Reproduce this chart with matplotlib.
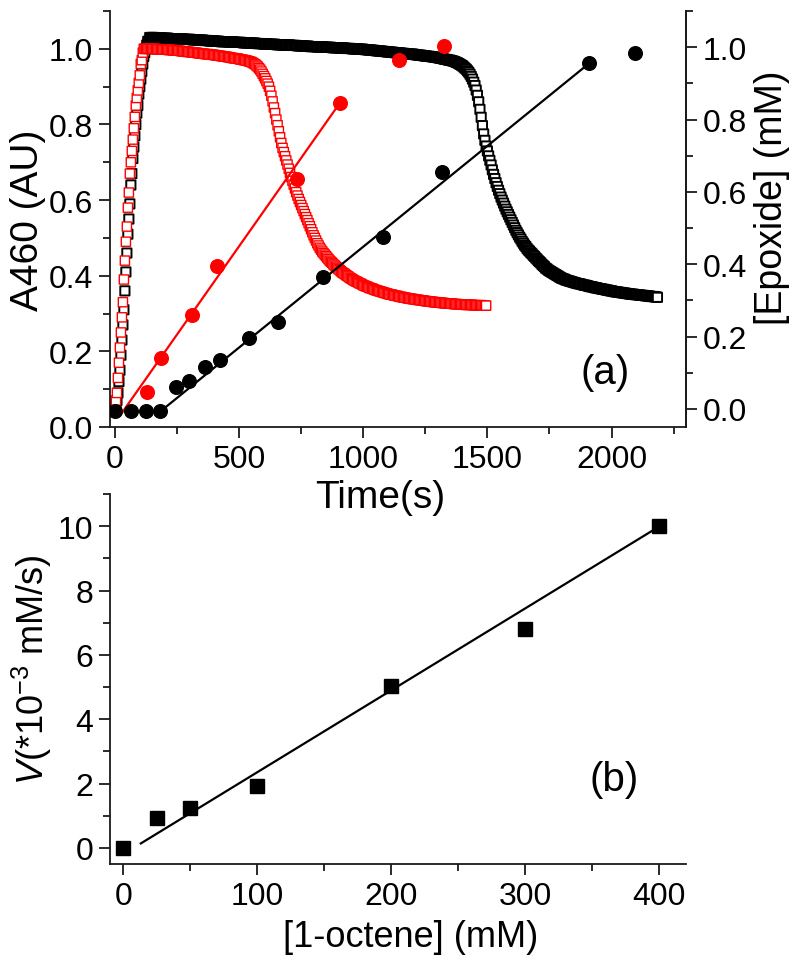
import numpy as np
import matplotlib.pyplot as plt
from matplotlib.ticker import MultipleLocator

plt.rcParams['font.family'] = ['Liberation Sans', 'DejaVu Sans']
plt.rcParams['mathtext.fontset'] = 'custom'
plt.rcParams['mathtext.rm'] = 'Liberation Sans'
plt.rcParams['mathtext.it'] = 'Liberation Sans:italic'

# ---- (a) A460 traces (hollow squares, left axis) ----
# rise sampled every 4 s, then every 5 s
black_rise_t = np.arange(0, 141, 4)
black_rise_a = [0.05, 0.05, 0.07, 0.09, 0.12, 0.15, 0.19, 0.23, 0.27, 0.31,
                0.36, 0.41, 0.46, 0.51, 0.55, 0.59, 0.64, 0.67, 0.71, 0.74,
                0.77, 0.80, 0.83, 0.85, 0.88, 0.90, 0.92, 0.94, 0.96, 0.98,
                0.99, 1.00, 1.01, 1.02, 1.02, 1.03]
black_t = np.arange(145, 2186, 5)
black_a = [
    1.030, 1.030, 1.030, 1.030, 1.029, 1.029, 1.029, 1.029, 1.029, 1.028, 1.028, 1.028, 1.028, 1.028, 1.028, 1.027, 1.027, 1.027, 1.027, 1.027,
    1.027, 1.026, 1.026, 1.026, 1.026, 1.026, 1.026, 1.025, 1.025, 1.025, 1.025, 1.025, 1.025, 1.024, 1.024, 1.024, 1.024, 1.024, 1.023, 1.023,
    1.023, 1.023, 1.023, 1.022, 1.022, 1.022, 1.022, 1.021, 1.021, 1.021, 1.021, 1.021, 1.020, 1.020, 1.020, 1.020, 1.019, 1.019, 1.019, 1.019,
    1.019, 1.019, 1.019, 1.018, 1.018, 1.018, 1.018, 1.018, 1.017, 1.017, 1.017, 1.017, 1.017, 1.017, 1.016, 1.016, 1.016, 1.016, 1.016, 1.016,
    1.015, 1.015, 1.015, 1.015, 1.015, 1.014, 1.014, 1.014, 1.014, 1.014, 1.013, 1.013, 1.013, 1.013, 1.013, 1.012, 1.012, 1.012, 1.012, 1.012,
    1.012, 1.011, 1.011, 1.011, 1.011, 1.011, 1.010, 1.010, 1.010, 1.010, 1.010, 1.010, 1.010, 1.009, 1.009, 1.009, 1.009, 1.009, 1.008, 1.008,
    1.008, 1.008, 1.008, 1.007, 1.007, 1.007, 1.007, 1.007, 1.006, 1.006, 1.006, 1.006, 1.006, 1.006, 1.005, 1.005, 1.005, 1.005, 1.005, 1.005,
    1.004, 1.004, 1.004, 1.004, 1.004, 1.004, 1.003, 1.003, 1.003, 1.003, 1.003, 1.003, 1.002, 1.002, 1.002, 1.002, 1.002, 1.001, 1.001, 1.001,
    1.001, 1.001, 1.000, 1.000, 1.000, 1.000, 1.000, 0.999, 0.999, 0.999, 0.999, 0.999, 0.998, 0.998, 0.998, 0.997, 0.997, 0.997, 0.996, 0.996,
    0.996, 0.995, 0.995, 0.995, 0.994, 0.994, 0.994, 0.993, 0.993, 0.993, 0.992, 0.992, 0.992, 0.991, 0.991, 0.991, 0.990, 0.990, 0.990, 0.989,
    0.989, 0.989, 0.988, 0.988, 0.988, 0.987, 0.987, 0.987, 0.986, 0.986, 0.986, 0.986, 0.985, 0.985, 0.984, 0.984, 0.983, 0.983, 0.983, 0.982,
    0.982, 0.981, 0.981, 0.980, 0.980, 0.980, 0.979, 0.979, 0.978, 0.978, 0.977, 0.977, 0.976, 0.975, 0.975, 0.974, 0.973, 0.972, 0.972, 0.971,
    0.970, 0.970, 0.969, 0.968, 0.967, 0.966, 0.964, 0.963, 0.961, 0.959, 0.957, 0.955, 0.952, 0.949, 0.946, 0.942, 0.938, 0.933, 0.927, 0.920,
    0.912, 0.903, 0.891, 0.877, 0.860, 0.840, 0.819, 0.797, 0.775, 0.758, 0.743, 0.730, 0.717, 0.705, 0.693, 0.680, 0.668, 0.657, 0.646, 0.636,
    0.626, 0.617, 0.608, 0.600, 0.592, 0.584, 0.576, 0.569, 0.562, 0.555, 0.548, 0.541, 0.534, 0.527, 0.520, 0.514, 0.508, 0.502, 0.497, 0.491,
    0.486, 0.481, 0.477, 0.472, 0.468, 0.465, 0.461, 0.458, 0.454, 0.451, 0.447, 0.444, 0.440, 0.437, 0.434, 0.430, 0.427, 0.424, 0.420, 0.418,
    0.415, 0.413, 0.411, 0.409, 0.407, 0.405, 0.403, 0.401, 0.399, 0.397, 0.395, 0.393, 0.392, 0.391, 0.389, 0.388, 0.387, 0.386, 0.385, 0.384,
    0.383, 0.382, 0.381, 0.380, 0.379, 0.379, 0.378, 0.377, 0.376, 0.375, 0.375, 0.374, 0.373, 0.372, 0.371, 0.371, 0.370, 0.369, 0.368, 0.368,
    0.367, 0.366, 0.366, 0.365, 0.364, 0.364, 0.363, 0.362, 0.362, 0.361, 0.360, 0.360, 0.359, 0.358, 0.358, 0.357, 0.357, 0.356, 0.356, 0.355,
    0.355, 0.354, 0.354, 0.353, 0.353, 0.352, 0.352, 0.351, 0.351, 0.351, 0.350, 0.350, 0.350, 0.349, 0.349, 0.348, 0.348, 0.348, 0.347, 0.347,
    0.347, 0.346, 0.346, 0.345, 0.345, 0.345, 0.344, 0.344, 0.343]

red_rise_t = np.arange(0, 117, 4)
red_rise_a = [0.05, 0.07, 0.09, 0.13, 0.17, 0.21, 0.25, 0.29, 0.33, 0.39,
              0.44, 0.49, 0.53, 0.58, 0.62, 0.67, 0.70, 0.73, 0.76, 0.79,
              0.82, 0.85, 0.87, 0.89, 0.91, 0.93, 0.96, 0.97, 0.99, 1.00]
red_t = np.arange(120, 1496, 5)
red_a = [
    1.000, 1.000, 1.000, 1.000, 1.000, 1.000, 1.000, 1.000, 1.000, 0.999, 0.999, 0.999, 0.999, 0.999, 0.998, 0.998, 0.998, 0.998, 0.998, 0.997,
    0.997, 0.997, 0.997, 0.996, 0.996, 0.996, 0.996, 0.995, 0.995, 0.994, 0.994, 0.993, 0.993, 0.993, 0.992, 0.992, 0.992, 0.991, 0.991, 0.990,
    0.990, 0.990, 0.989, 0.989, 0.988, 0.988, 0.988, 0.987, 0.987, 0.986, 0.986, 0.986, 0.985, 0.985, 0.985, 0.984, 0.984, 0.983, 0.983, 0.982,
    0.982, 0.981, 0.981, 0.980, 0.980, 0.979, 0.979, 0.978, 0.978, 0.977, 0.976, 0.976, 0.975, 0.975, 0.974, 0.974, 0.973, 0.972, 0.972, 0.971,
    0.970, 0.970, 0.969, 0.968, 0.967, 0.966, 0.965, 0.963, 0.961, 0.959, 0.956, 0.953, 0.949, 0.945, 0.940, 0.934, 0.928, 0.922, 0.915, 0.908,
    0.900, 0.889, 0.876, 0.861, 0.845, 0.830, 0.813, 0.798, 0.782, 0.766, 0.751, 0.738, 0.727, 0.716, 0.705, 0.694, 0.683, 0.672, 0.661, 0.651,
    0.641, 0.631, 0.621, 0.612, 0.603, 0.595, 0.587, 0.579, 0.571, 0.563, 0.555, 0.547, 0.539, 0.531, 0.523, 0.515, 0.507, 0.500, 0.493, 0.486,
    0.480, 0.474, 0.469, 0.464, 0.460, 0.456, 0.452, 0.448, 0.444, 0.440, 0.437, 0.434, 0.430, 0.427, 0.424, 0.421, 0.418, 0.415, 0.412, 0.409,
    0.407, 0.405, 0.402, 0.400, 0.398, 0.395, 0.393, 0.391, 0.389, 0.387, 0.385, 0.384, 0.382, 0.380, 0.379, 0.377, 0.375, 0.374, 0.372, 0.371,
    0.370, 0.368, 0.367, 0.366, 0.365, 0.363, 0.362, 0.361, 0.360, 0.359, 0.358, 0.357, 0.356, 0.355, 0.354, 0.353, 0.352, 0.351, 0.350, 0.350,
    0.349, 0.348, 0.347, 0.347, 0.346, 0.345, 0.344, 0.344, 0.343, 0.342, 0.342, 0.341, 0.340, 0.340, 0.339, 0.339, 0.338, 0.338, 0.337, 0.337,
    0.336, 0.336, 0.335, 0.335, 0.334, 0.334, 0.333, 0.333, 0.332, 0.332, 0.332, 0.331, 0.331, 0.330, 0.330, 0.330, 0.329, 0.329, 0.329, 0.328,
    0.328, 0.328, 0.327, 0.327, 0.327, 0.326, 0.326, 0.326, 0.326, 0.325, 0.325, 0.325, 0.325, 0.324, 0.324, 0.324, 0.324, 0.324, 0.323, 0.323,
    0.323, 0.323, 0.323, 0.323, 0.323, 0.322, 0.322, 0.322, 0.322, 0.322, 0.322, 0.322, 0.322, 0.321, 0.321, 0.321]

# ---- (a) epoxide (filled circles, right axis) + linear fits ----
epox_black_t = [0, 63, 125, 181, 246, 298, 363, 423, 540, 657, 839, 1081, 1317, 1911, 2093]
epox_black = [-0.005, -0.005, -0.005, -0.005, 0.060, 0.076, 0.117, 0.134, 0.197, 0.240,
              0.364, 0.475, 0.655, 0.956, 0.985]
fit_black_t = [208, 1911]
fit_black = [0.007, 0.956]

epox_red_t = [130, 184, 309, 410, 733, 907, 1146, 1324]
epox_red = [0.046, 0.141, 0.260, 0.394, 0.636, 0.847, 0.965, 1.002]
fit_red_t = [27, 907]
fit_red = [-0.012, 0.847]

# ---- (b) rate vs [1-octene] ----
octene = [0, 25, 50, 100, 200, 300, 400]
rate = [0.0, 0.93, 1.25, 1.94, 5.04, 6.80, 10.0]
fit_oct = [13, 396]
fit_rate = [0.14, 9.89]

RED = '#ff0000'
AXC = '#1a1a1a'

fig = plt.figure(figsize=(8, 9.62), dpi=100)
ax = fig.add_axes([0.1375, 0.5551, 0.72, 0.4324])
ax2 = ax.twinx()
axb = fig.add_axes([0.1375, 0.1008, 0.72, 0.3846])
axb.patch.set_visible(False)

# per-point colours + snap=False: squares are drawn one by one at sub-pixel
# positions so the dense trace merges into a band like the original
bt = np.concatenate([black_rise_t, black_t])
rt = np.concatenate([red_rise_t, red_t])
ax.scatter(bt, black_rise_a + black_a, marker='s', s=44,
           facecolors=['white'] * len(bt), edgecolors=['black'] * len(bt),
           linewidths=1.4, snap=False)
ax.scatter(rt, red_rise_a + red_a, marker='s', s=44,
           facecolors=['white'] * len(rt), edgecolors=[RED] * len(rt),
           linewidths=1.0, snap=False)

ax2.plot(fit_red_t, fit_red, color=RED, lw=1.6)
ax2.plot(epox_red_t, epox_red, 'o', color=RED, ms=9.8)
ax2.plot(fit_black_t, fit_black, color='black', lw=1.6)
ax2.plot(epox_black_t, epox_black, 'o', color='black', ms=9.8)

ax.set_xlim(-20, 2300)
ax.set_ylim(0, 1.1)
ax2.set_ylim(-0.05, 1.1)
ax.xaxis.set_major_locator(MultipleLocator(500))
ax.xaxis.set_minor_locator(MultipleLocator(250))
ax.yaxis.set_major_locator(MultipleLocator(0.2))
ax.yaxis.set_minor_locator(MultipleLocator(0.1))
ax2.yaxis.set_major_locator(MultipleLocator(0.2))
ax2.yaxis.set_minor_locator(MultipleLocator(0.1))
ax.yaxis.set_major_formatter(lambda v, p: f'{v:.1f}')
ax2.yaxis.set_major_formatter(lambda v, p: f'{v:.1f}')

for a in (ax, ax2):
    a.spines['top'].set_visible(False)
ax2.spines['left'].set_visible(False)
ax2.spines['bottom'].set_visible(False)

axb.plot(fit_oct, fit_rate, color='black', lw=1.6)
axb.plot(octene, rate, 's', color='black', ms=9.5)
axb.set_xlim(-10, 420)
axb.set_ylim(-0.5, 11)
axb.xaxis.set_major_locator(MultipleLocator(100))
axb.xaxis.set_minor_locator(MultipleLocator(50))
axb.yaxis.set_major_locator(MultipleLocator(2))
axb.yaxis.set_minor_locator(MultipleLocator(1))
axb.spines['top'].set_visible(False)
axb.spines['right'].set_visible(False)

for a in (ax, ax2, axb):
    for s in a.spines.values():
        s.set_linewidth(1.3)
        s.set_color(AXC)
    a.tick_params(which='major', direction='out', length=8, width=1.3, color=AXC,
                  labelsize=23, pad=4)
    a.tick_params(which='minor', direction='out', length=5, width=1.3, color=AXC)

# axis titles
ax.text(-0.142, 0.5, 'A460 (AU)', transform=ax.transAxes, rotation=90,
        ha='center', va='center', fontsize=28)
ax.text(0.469, -0.168, 'Time(s)', transform=ax.transAxes,
        ha='center', va='center', fontsize=28)
ax2.text(1.149, 0.553, '[Epoxide] (mM)', transform=ax2.transAxes, rotation=90,
         ha='center', va='center', fontsize=27)
ax2.text(0.859, 0.133, '(a)', transform=ax2.transAxes,
         ha='center', va='center', fontsize=29)

axb.text(-0.135, 0.527, r'$V$(*10$^{-3}$ mM/s)', transform=axb.transAxes, rotation=90,
         ha='center', va='center', fontsize=26)
axb.text(0.522, -0.197, '[1-octene] (mM)', transform=axb.transAxes,
         ha='center', va='center', fontsize=26)
axb.text(0.876, 0.23, '(b)', transform=axb.transAxes,
         ha='center', va='center', fontsize=29)

fig.savefig('out.png', dpi=100)
